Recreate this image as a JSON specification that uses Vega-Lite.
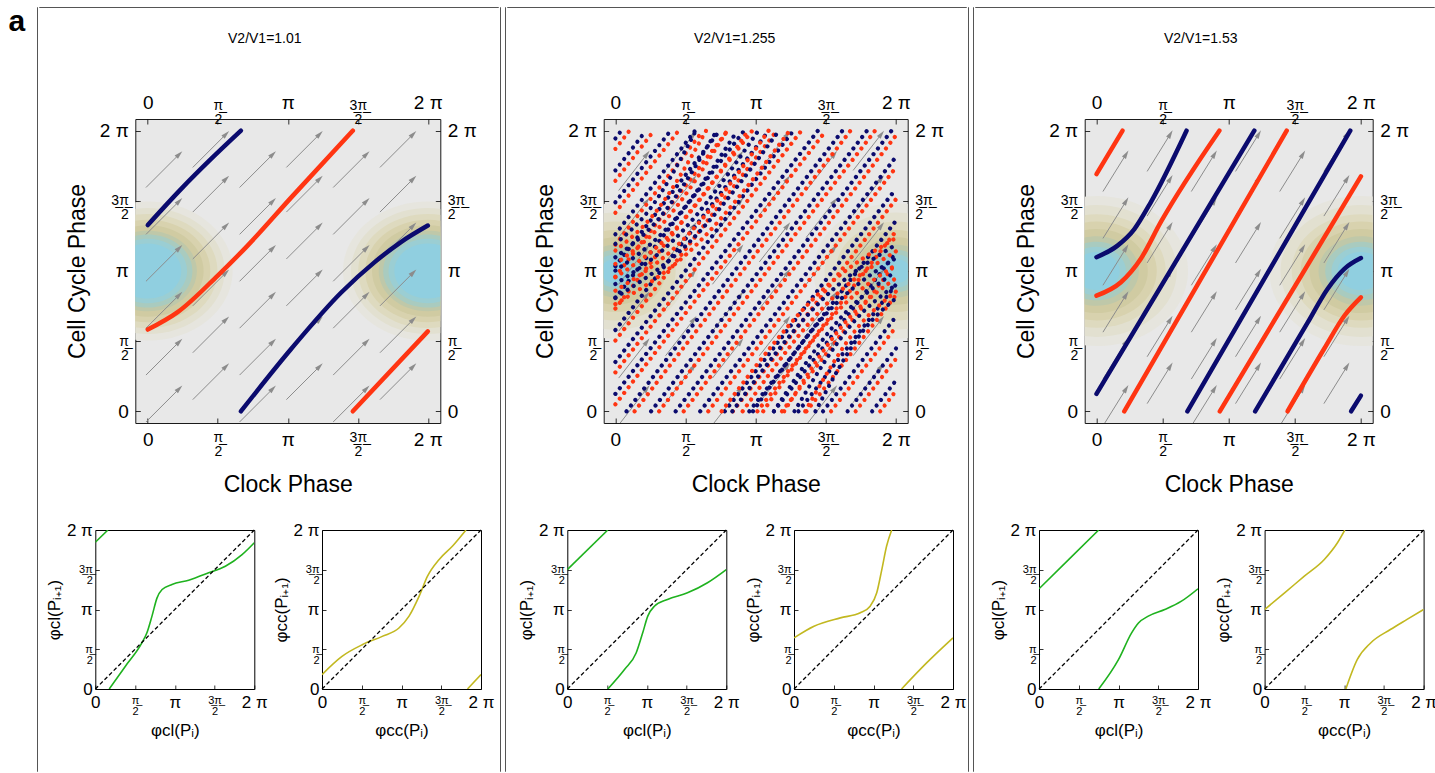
{
"$schema": "https://vega.github.io/schema/vega-lite/v6.json",
"background": "white",
"padding": {"left": 8, "top": 6, "right": 0, "bottom": 0},
"title": {"text": "a", "anchor": "start", "frame": "bounds", "fontSize": 30, "fontWeight": "bold", "font": "Liberation Sans", "color": "#000", "dx": -28, "offset": -30},
"spacing": 3,
"config": {
 "font": "Liberation Sans",
 "axis": {"domain": false, "grid": false, "tickColor": "#000", "tickWidth": 0.8, "labelColor": "#000", "labelFont": "Liberation Sans", "titleFont": "Liberation Sans", "titleFontWeight": "normal", "titleColor": "#000", "labelFlush": false, "labelOverlap": false, "labelBound": false},
 "title": {"font": "Liberation Sans", "fontWeight": "normal", "color": "#000"}
},
"datasets": {
 "bg": [
  {"p":1,"x":0,"y":3.1416,"r":1.9,"lvl":1},{"p":1,"x":0,"y":3.1416,"r":1.72,"lvl":2},{"p":1,"x":0,"y":3.1416,"r":1.56,"lvl":3},{"p":1,"x":0,"y":3.1416,"r":1.4,"lvl":4},{"p":1,"x":0,"y":3.1416,"r":1.25,"lvl":5},{"p":1,"x":0,"y":3.1416,"r":1.1,"lvl":6},{"p":1,"x":0,"y":3.1416,"r":1.0,"lvl":7},{"p":1,"x":0,"y":3.1416,"r":0.88,"lvl":8},{"p":1,"x":0,"y":3.1416,"r":0.75,"lvl":9},
  {"p":1,"x":6.2832,"y":3.1416,"r":1.9,"lvl":1},{"p":1,"x":6.2832,"y":3.1416,"r":1.72,"lvl":2},{"p":1,"x":6.2832,"y":3.1416,"r":1.56,"lvl":3},{"p":1,"x":6.2832,"y":3.1416,"r":1.4,"lvl":4},{"p":1,"x":6.2832,"y":3.1416,"r":1.25,"lvl":5},{"p":1,"x":6.2832,"y":3.1416,"r":1.1,"lvl":6},{"p":1,"x":6.2832,"y":3.1416,"r":1.0,"lvl":7},{"p":1,"x":6.2832,"y":3.1416,"r":0.88,"lvl":8},{"p":1,"x":6.2832,"y":3.1416,"r":0.75,"lvl":9},
  {"p":2,"x":0,"y":3.1416,"r":1.85,"lvl":1},{"p":2,"x":0,"y":3.1416,"r":1.6,"lvl":2},{"p":2,"x":0,"y":3.1416,"r":1.35,"lvl":3},{"p":2,"x":0,"y":3.1416,"r":1.12,"lvl":4},{"p":2,"x":0,"y":3.1416,"r":0.92,"lvl":5},{"p":2,"x":0,"y":3.1416,"r":0.72,"lvl":6},{"p":2,"x":0,"y":3.1416,"r":0.58,"lvl":7},{"p":2,"x":0,"y":3.1416,"r":0.45,"lvl":8},{"p":2,"x":0,"y":3.1416,"r":0.33,"lvl":9},
  {"p":2,"x":6.2832,"y":3.1416,"r":1.85,"lvl":1},{"p":2,"x":6.2832,"y":3.1416,"r":1.6,"lvl":2},{"p":2,"x":6.2832,"y":3.1416,"r":1.35,"lvl":3},{"p":2,"x":6.2832,"y":3.1416,"r":1.12,"lvl":4},{"p":2,"x":6.2832,"y":3.1416,"r":0.92,"lvl":5},{"p":2,"x":6.2832,"y":3.1416,"r":0.72,"lvl":6},{"p":2,"x":6.2832,"y":3.1416,"r":0.58,"lvl":7},{"p":2,"x":6.2832,"y":3.1416,"r":0.45,"lvl":8},{"p":2,"x":6.2832,"y":3.1416,"r":0.33,"lvl":9},
  {"p":3,"x":0,"y":3.1416,"r":2.05,"lvl":1},{"p":3,"x":0,"y":3.1416,"r":1.8,"lvl":2},{"p":3,"x":0,"y":3.1416,"r":1.55,"lvl":3},{"p":3,"x":0,"y":3.1416,"r":1.35,"lvl":4},{"p":3,"x":0,"y":3.1416,"r":1.15,"lvl":5},{"p":3,"x":0,"y":3.1416,"r":0.95,"lvl":6},{"p":3,"x":0,"y":3.1416,"r":0.8,"lvl":7},{"p":3,"x":0,"y":3.1416,"r":0.66,"lvl":8},{"p":3,"x":0,"y":3.1416,"r":0.52,"lvl":9},
  {"p":3,"x":6.2832,"y":3.1416,"r":2.05,"lvl":1},{"p":3,"x":6.2832,"y":3.1416,"r":1.8,"lvl":2},{"p":3,"x":6.2832,"y":3.1416,"r":1.55,"lvl":3},{"p":3,"x":6.2832,"y":3.1416,"r":1.35,"lvl":4},{"p":3,"x":6.2832,"y":3.1416,"r":1.15,"lvl":5},{"p":3,"x":6.2832,"y":3.1416,"r":0.95,"lvl":6},{"p":3,"x":6.2832,"y":3.1416,"r":0.8,"lvl":7},{"p":3,"x":6.2832,"y":3.1416,"r":0.66,"lvl":8},{"p":3,"x":6.2832,"y":3.1416,"r":0.52,"lvl":9}
 ],
 "arr": [
  {"x":0.7,"y":0.5},{"x":0.7,"y":1.55},{"x":0.7,"y":2.6},{"x":0.7,"y":3.65},{"x":0.7,"y":4.7},{"x":0.7,"y":5.75},
  {"x":1.75,"y":1.0},{"x":1.75,"y":2.05},{"x":1.75,"y":3.1},{"x":1.75,"y":4.15},{"x":1.75,"y":5.2},{"x":1.75,"y":6.2},
  {"x":2.8,"y":0.5},{"x":2.8,"y":1.55},{"x":2.8,"y":2.6},{"x":2.8,"y":3.65},{"x":2.8,"y":4.7},{"x":2.8,"y":5.75},
  {"x":3.85,"y":1.0},{"x":3.85,"y":2.05},{"x":3.85,"y":3.1},{"x":3.85,"y":4.15},{"x":3.85,"y":5.2},{"x":3.85,"y":6.2},
  {"x":4.9,"y":0.5},{"x":4.9,"y":1.55},{"x":4.9,"y":2.6},{"x":4.9,"y":3.65},{"x":4.9,"y":4.7},{"x":4.9,"y":5.75},
  {"x":5.95,"y":1.0},{"x":5.95,"y":2.05},{"x":5.95,"y":3.1},{"x":5.95,"y":4.15},{"x":5.95,"y":5.2},{"x":5.95,"y":6.2}
 ],
 "tr": [
  {"p":1,"id":"b1","c":"b","x":0,"y":4.17},{"p":1,"id":"b1","c":"b","x":0.75,"y":4.98},{"p":1,"id":"b1","c":"b","x":1.42,"y":5.65},{"p":1,"id":"b1","c":"b","x":2.09,"y":6.283},
  {"p":1,"id":"b2","c":"b","x":2.09,"y":0},{"p":1,"id":"b2","c":"b","x":3.22,"y":1.4},{"p":1,"id":"b2","c":"b","x":4.34,"y":2.66},{"p":1,"id":"b2","c":"b","x":5.09,"y":3.34},{"p":1,"id":"b2","c":"b","x":5.68,"y":3.79},{"p":1,"id":"b2","c":"b","x":6.283,"y":4.16},
  {"p":1,"id":"r1","c":"r","x":0,"y":1.83},{"p":1,"id":"r1","c":"r","x":0.67,"y":2.22},{"p":1,"id":"r1","c":"r","x":1.57,"y":3.04},{"p":1,"id":"r1","c":"r","x":2.24,"y":3.71},{"p":1,"id":"r1","c":"r","x":3.22,"y":4.79},{"p":1,"id":"r1","c":"r","x":4.6,"y":6.283},
  {"p":1,"id":"r2","c":"r","x":4.6,"y":0},{"p":1,"id":"r2","c":"r","x":6.283,"y":1.79},
  {"p":3,"id":"ra","c":"r","x":0,"y":5.31},{"p":3,"id":"ra","c":"r","x":0.62,"y":6.283},
  {"p":3,"id":"ba","c":"b","x":0,"y":3.45},{"p":3,"id":"ba","c":"b","x":0.5,"y":3.71},{"p":3,"id":"ba","c":"b","x":0.9,"y":4.08},{"p":3,"id":"ba","c":"b","x":1.29,"y":4.68},{"p":3,"id":"ba","c":"b","x":2.14,"y":6.283},
  {"p":3,"id":"rb","c":"r","x":0,"y":2.59},{"p":3,"id":"rb","c":"r","x":0.58,"y":2.89},{"p":3,"id":"rb","c":"r","x":1.05,"y":3.41},{"p":3,"id":"rb","c":"r","x":1.53,"y":4.24},{"p":3,"id":"rb","c":"r","x":2.92,"y":6.283},
  {"p":3,"id":"bb","c":"b","x":0,"y":0.39},{"p":3,"id":"bb","c":"b","x":3.75,"y":6.283},
  {"p":3,"id":"rc","c":"r","x":0.66,"y":0},{"p":3,"id":"rc","c":"r","x":4.52,"y":6.283},
  {"p":3,"id":"bc","c":"b","x":2.16,"y":0},{"p":3,"id":"bc","c":"b","x":6.03,"y":6.283},
  {"p":3,"id":"rd","c":"r","x":2.93,"y":0},{"p":3,"id":"rd","c":"r","x":6.283,"y":5.26},
  {"p":3,"id":"bd","c":"b","x":3.77,"y":0},{"p":3,"id":"bd","c":"b","x":5.02,"y":1.99},{"p":3,"id":"bd","c":"b","x":5.49,"y":2.74},{"p":3,"id":"bd","c":"b","x":5.89,"y":3.19},{"p":3,"id":"bd","c":"b","x":6.283,"y":3.43},
  {"p":3,"id":"re","c":"r","x":4.54,"y":0},{"p":3,"id":"re","c":"r","x":5.41,"y":1.4},{"p":3,"id":"re","c":"r","x":5.89,"y":2.14},{"p":3,"id":"re","c":"r","x":6.283,"y":2.55},
  {"p":3,"id":"be","c":"b","x":6.05,"y":0},{"p":3,"id":"be","c":"b","x":6.283,"y":0.35}
 ],
 "dots": [
  {"id":"s0b","c":"b","x":0,"y":6.11},{"id":"s0b","c":"b","x":0.13,"y":6.283},
  {"id":"s0r","c":"r","x":0,"y":5.876},{"id":"s0r","c":"r","x":0.313,"y":6.283},
  {"id":"s1b","c":"b","x":0,"y":5.395},{"id":"s1b","c":"b","x":0.683,"y":6.283},
  {"id":"s1r","c":"r","x":0,"y":5.161},{"id":"s1r","c":"r","x":0.863,"y":6.283},
  {"id":"s2b","c":"b","x":0,"y":4.68},{"id":"s2b","c":"b","x":1.233,"y":6.283},
  {"id":"s2r","c":"r","x":0,"y":4.446},{"id":"s2r","c":"r","x":1.413,"y":6.283},
  {"id":"s3b","c":"b","x":0,"y":3.965},{"id":"s3b","c":"b","x":1.783,"y":6.283},
  {"id":"s3r","c":"r","x":0,"y":3.731},{"id":"s3r","c":"r","x":1.963,"y":6.283},
  {"id":"s4b","c":"b","x":0,"y":3.25},{"id":"s4b","c":"b","x":2.333,"y":6.283},
  {"id":"s4r","c":"r","x":0,"y":3.016},{"id":"s4r","c":"r","x":2.513,"y":6.283},
  {"id":"s5b","c":"b","x":0,"y":2.535},{"id":"s5b","c":"b","x":2.883,"y":6.283},
  {"id":"s5r","c":"r","x":0,"y":2.301},{"id":"s5r","c":"r","x":3.063,"y":6.283},
  {"id":"s6b","c":"b","x":0,"y":1.82},{"id":"s6b","c":"b","x":3.433,"y":6.283},
  {"id":"s6r","c":"r","x":0,"y":1.586},{"id":"s6r","c":"r","x":3.613,"y":6.283},
  {"id":"s7b","c":"b","x":0,"y":1.105},{"id":"s7b","c":"b","x":3.983,"y":6.283},
  {"id":"s7r","c":"r","x":0,"y":0.871},{"id":"s7r","c":"r","x":4.163,"y":6.283},
  {"id":"s8b","c":"b","x":0,"y":0.39},{"id":"s8b","c":"b","x":4.533,"y":6.283},
  {"id":"s8r","c":"r","x":0,"y":0.156},{"id":"s8r","c":"r","x":4.713,"y":6.283},
  {"id":"s9b","c":"b","x":0.25,"y":0},{"id":"s9b","c":"b","x":5.083,"y":6.283},
  {"id":"s9r","c":"r","x":0.43,"y":0},{"id":"s9r","c":"r","x":5.263,"y":6.283},
  {"id":"s10b","c":"b","x":0.8,"y":0},{"id":"s10b","c":"b","x":5.633,"y":6.283},
  {"id":"s10r","c":"r","x":0.98,"y":0},{"id":"s10r","c":"r","x":5.813,"y":6.283},
  {"id":"s11b","c":"b","x":1.35,"y":0},{"id":"s11b","c":"b","x":6.183,"y":6.283},
  {"id":"s11r","c":"r","x":1.53,"y":0},{"id":"s11r","c":"r","x":6.283,"y":6.179},
  {"id":"s12b","c":"b","x":1.9,"y":0},{"id":"s12b","c":"b","x":6.283,"y":5.698},
  {"id":"s12r","c":"r","x":2.08,"y":0},{"id":"s12r","c":"r","x":6.283,"y":5.464},
  {"id":"s13b","c":"b","x":2.45,"y":0},{"id":"s13b","c":"b","x":6.283,"y":4.983},
  {"id":"s13r","c":"r","x":2.63,"y":0},{"id":"s13r","c":"r","x":6.283,"y":4.749},
  {"id":"s14b","c":"b","x":3.0,"y":0},{"id":"s14b","c":"b","x":6.283,"y":4.268},
  {"id":"s14r","c":"r","x":3.18,"y":0},{"id":"s14r","c":"r","x":6.283,"y":4.034},
  {"id":"s15b","c":"b","x":3.55,"y":0},{"id":"s15b","c":"b","x":6.283,"y":3.553},
  {"id":"s15r","c":"r","x":3.73,"y":0},{"id":"s15r","c":"r","x":6.283,"y":3.319},
  {"id":"s16b","c":"b","x":4.1,"y":0},{"id":"s16b","c":"b","x":6.283,"y":2.838},
  {"id":"s16r","c":"r","x":4.28,"y":0},{"id":"s16r","c":"r","x":6.283,"y":2.604},
  {"id":"s17b","c":"b","x":4.65,"y":0},{"id":"s17b","c":"b","x":6.283,"y":2.123},
  {"id":"s17r","c":"r","x":4.83,"y":0},{"id":"s17r","c":"r","x":6.283,"y":1.889},
  {"id":"s18b","c":"b","x":5.2,"y":0},{"id":"s18b","c":"b","x":6.283,"y":1.408},
  {"id":"s18r","c":"r","x":5.38,"y":0},{"id":"s18r","c":"r","x":6.283,"y":1.174},
  {"id":"s19b","c":"b","x":5.75,"y":0},{"id":"s19b","c":"b","x":6.283,"y":0.693},
  {"id":"s19r","c":"r","x":5.93,"y":0},{"id":"s19r","c":"r","x":6.283,"y":0.459},
  {"id":"a0","c":"b","x":0,"y":3.75},{"id":"a0","c":"b","x":0.72,"y":4.46},{"id":"a0","c":"b","x":1.8,"y":6.283},
  {"id":"a1","c":"r","x":0,"y":3.6},{"id":"a1","c":"r","x":0.81,"y":4.35},{"id":"a1","c":"r","x":2.03,"y":6.283},
  {"id":"a2","c":"b","x":0,"y":3.45},{"id":"a2","c":"b","x":0.91,"y":4.24},{"id":"a2","c":"b","x":2.27,"y":6.283},
  {"id":"a3","c":"r","x":0,"y":3.3},{"id":"a3","c":"r","x":1.0,"y":4.14},{"id":"a3","c":"r","x":2.5,"y":6.283},
  {"id":"a4","c":"b","x":0,"y":3.15},{"id":"a4","c":"b","x":1.09,"y":4.03},{"id":"a4","c":"b","x":2.73,"y":6.283},
  {"id":"a5","c":"r","x":0,"y":3.0},{"id":"a5","c":"r","x":1.19,"y":3.92},{"id":"a5","c":"r","x":2.97,"y":6.283},
  {"id":"a6","c":"b","x":0,"y":2.85},{"id":"a6","c":"b","x":1.28,"y":3.81},{"id":"a6","c":"b","x":3.2,"y":6.283},
  {"id":"a7","c":"r","x":0,"y":2.7},{"id":"a7","c":"r","x":1.37,"y":3.7},{"id":"a7","c":"r","x":3.43,"y":6.283},
  {"id":"a8","c":"b","x":0,"y":2.55},{"id":"a8","c":"b","x":1.46,"y":3.6},{"id":"a8","c":"b","x":3.66,"y":6.283},
  {"id":"a9","c":"r","x":0,"y":2.4},{"id":"a9","c":"r","x":1.56,"y":3.49},{"id":"a9","c":"r","x":3.9,"y":6.283},
  {"id":"c0","c":"b","x":4.48,"y":0},{"id":"c0","c":"b","x":5.56,"y":1.82},{"id":"c0","c":"b","x":6.283,"y":2.533},
  {"id":"c1","c":"r","x":4.25,"y":0},{"id":"c1","c":"r","x":5.47,"y":1.93},{"id":"c1","c":"r","x":6.283,"y":2.683},
  {"id":"c2","c":"b","x":4.01,"y":0},{"id":"c2","c":"b","x":5.37,"y":2.04},{"id":"c2","c":"b","x":6.283,"y":2.833},
  {"id":"c3","c":"r","x":3.78,"y":0},{"id":"c3","c":"r","x":5.28,"y":2.14},{"id":"c3","c":"r","x":6.283,"y":2.983},
  {"id":"c4","c":"b","x":3.55,"y":0},{"id":"c4","c":"b","x":5.19,"y":2.25},{"id":"c4","c":"b","x":6.283,"y":3.133},
  {"id":"c5","c":"r","x":3.31,"y":0},{"id":"c5","c":"r","x":5.09,"y":2.36},{"id":"c5","c":"r","x":6.283,"y":3.283},
  {"id":"c6","c":"b","x":3.08,"y":0},{"id":"c6","c":"b","x":5.0,"y":2.47},{"id":"c6","c":"b","x":6.283,"y":3.433},
  {"id":"c7","c":"r","x":2.85,"y":0},{"id":"c7","c":"r","x":4.91,"y":2.58},{"id":"c7","c":"r","x":6.283,"y":3.583},
  {"id":"c8","c":"b","x":2.62,"y":0},{"id":"c8","c":"b","x":4.82,"y":2.68},{"id":"c8","c":"b","x":6.283,"y":3.733},
  {"id":"c9","c":"r","x":2.38,"y":0},{"id":"c9","c":"r","x":4.72,"y":2.79},{"id":"c9","c":"r","x":6.283,"y":3.883}
 ],
 "mp": [
  {"p":1,"k":"cl","id":"m","x":0.55,"y":0},{"p":1,"k":"cl","id":"m","x":1.19,"y":0.9},{"p":1,"k":"cl","id":"m","x":1.84,"y":1.82},{"p":1,"k":"cl","id":"m","x":2.04,"y":2.22},{"p":1,"k":"cl","id":"m","x":2.24,"y":2.88},{"p":1,"k":"cl","id":"m","x":2.44,"y":3.6},{"p":1,"k":"cl","id":"m","x":2.64,"y":3.93},{"p":1,"k":"cl","id":"m","x":3.03,"y":4.13},{"p":1,"k":"cl","id":"m","x":3.69,"y":4.3},{"p":1,"k":"cl","id":"m","x":4.48,"y":4.59},{"p":1,"k":"cl","id":"m","x":5.14,"y":4.85},{"p":1,"k":"cl","id":"m","x":5.8,"y":5.31},{"p":1,"k":"cl","id":"m","x":6.283,"y":5.78},
  {"p":1,"k":"cl","id":"u","x":0,"y":5.8},{"p":1,"k":"cl","id":"u","x":0.5,"y":6.283},
  {"p":1,"k":"cc","id":"m","x":0,"y":0.57},{"p":1,"k":"cc","id":"m","x":0.79,"y":1.29},{"p":1,"k":"cc","id":"m","x":1.59,"y":1.75},{"p":1,"k":"cc","id":"m","x":2.38,"y":2.08},{"p":1,"k":"cc","id":"m","x":3.04,"y":2.41},{"p":1,"k":"cc","id":"m","x":3.44,"y":2.88},{"p":1,"k":"cc","id":"m","x":3.84,"y":3.67},{"p":1,"k":"cc","id":"m","x":4.17,"y":4.46},{"p":1,"k":"cc","id":"m","x":4.63,"y":5.12},{"p":1,"k":"cc","id":"m","x":5.16,"y":5.65},{"p":1,"k":"cc","id":"m","x":5.69,"y":6.283},
  {"p":1,"k":"cc","id":"l","x":5.75,"y":0},{"p":1,"k":"cc","id":"l","x":6.283,"y":0.57},
  {"p":2,"k":"cl","id":"u","x":0,"y":4.72},{"p":2,"k":"cl","id":"u","x":1.6,"y":6.283},
  {"p":2,"k":"cl","id":"m","x":1.6,"y":0},{"p":2,"k":"cl","id":"m","x":2.26,"y":0.77},{"p":2,"k":"cl","id":"m","x":2.72,"y":1.42},{"p":2,"k":"cl","id":"m","x":2.98,"y":2.22},{"p":2,"k":"cl","id":"m","x":3.18,"y":2.88},{"p":2,"k":"cl","id":"m","x":3.44,"y":3.27},{"p":2,"k":"cl","id":"m","x":3.96,"y":3.54},{"p":2,"k":"cl","id":"m","x":4.75,"y":3.8},{"p":2,"k":"cl","id":"m","x":5.54,"y":4.2},{"p":2,"k":"cl","id":"m","x":6.283,"y":4.72},
  {"p":2,"k":"cc","id":"m","x":0,"y":2.02},{"p":2,"k":"cc","id":"m","x":0.79,"y":2.48},{"p":2,"k":"cc","id":"m","x":1.83,"y":2.81},{"p":2,"k":"cc","id":"m","x":2.62,"y":3.01},{"p":2,"k":"cc","id":"m","x":3.01,"y":3.27},{"p":2,"k":"cc","id":"m","x":3.27,"y":3.8},{"p":2,"k":"cc","id":"m","x":3.47,"y":4.72},{"p":2,"k":"cc","id":"m","x":3.66,"y":5.65},{"p":2,"k":"cc","id":"m","x":3.86,"y":6.283},
  {"p":2,"k":"cc","id":"l","x":4.25,"y":0},{"p":2,"k":"cc","id":"l","x":5.24,"y":1.03},{"p":2,"k":"cc","id":"l","x":6.283,"y":2.02},
  {"p":3,"k":"cl","id":"u","x":0,"y":3.96},{"p":3,"k":"cl","id":"u","x":1.18,"y":5.12},{"p":3,"k":"cl","id":"u","x":2.36,"y":6.283},
  {"p":3,"k":"cl","id":"m","x":2.36,"y":0},{"p":3,"k":"cl","id":"m","x":3.14,"y":1.16},{"p":3,"k":"cl","id":"m","x":3.66,"y":2.22},{"p":3,"k":"cl","id":"m","x":3.93,"y":2.61},{"p":3,"k":"cl","id":"m","x":4.32,"y":2.88},{"p":3,"k":"cl","id":"m","x":4.97,"y":3.14},{"p":3,"k":"cl","id":"m","x":5.63,"y":3.47},{"p":3,"k":"cl","id":"m","x":6.283,"y":3.96},
  {"p":3,"k":"cc","id":"u","x":0,"y":3.14},{"p":3,"k":"cc","id":"u","x":0.79,"y":3.8},{"p":3,"k":"cc","id":"u","x":1.57,"y":4.46},{"p":3,"k":"cc","id":"u","x":2.36,"y":5.12},{"p":3,"k":"cc","id":"u","x":2.88,"y":5.78},{"p":3,"k":"cc","id":"u","x":3.17,"y":6.283},
  {"p":3,"k":"cc","id":"l","x":3.21,"y":0},{"p":3,"k":"cc","id":"l","x":3.66,"y":1.16},{"p":3,"k":"cc","id":"l","x":4.19,"y":1.82},{"p":3,"k":"cc","id":"l","x":4.97,"y":2.35},{"p":3,"k":"cc","id":"l","x":5.63,"y":2.75},{"p":3,"k":"cc","id":"l","x":6.283,"y":3.14}
 ]
},
"hconcat": [
 {"spacing": 0, "hconcat": [
  {"width": 0.001, "height": 764, "data": {"values": []}, "mark": "point", "view": {"stroke": "#555", "fill": null}},
  {"spacing": 23, "vconcat": [
   {"width": 459, "height": 0.001, "data": {"values": []}, "mark": "point", "view": {"stroke": "#555", "fill": null}},
   {"bounds": "flush", "spacing": 95.3, "hconcat": [
    {"width": 0.001, "height": 0.001, "data": {"values": []}, "mark": "point", "view": {"stroke": null, "fill": null}},
    {
    "title": {"text": "V2/V1=1.01", "fontSize": 14, "frame": "group", "anchor": "middle", "dx": -23, "offset": 47},
    "width": 305, "height": 304,
    "view": {"fill": "#e8e8e8", "stroke": "#1a1a1a"},
    "resolve": {"scale": {"color": "independent", "size": "independent"}},
    "layer": [
     {"data": {"name": "bg"}, "transform": [{"filter": "datum.p == 1"}],
      "mark": {"type": "point", "shape": "M-1,0A1,0.82,0,1,0,1,0A1,0.82,0,1,0,-1,0Z", "filled": true, "opacity": 1, "clip": true},
      "encoding": {
       "x": {"field": "x", "type": "quantitative", "scale": {"domain": [-0.28, 6.563], "nice": false, "zero": false},
             "axis": {"orient": "bottom", "values": [0, 1.5708, 3.1416, 4.7124, 6.2832], "labelExpr": "datum.value < 0.5 ? '0' : datum.value < 2 ? ['\u03c0\u0332', '2'] : datum.value < 4 ? '\u03c0' : datum.value < 5 ? ['3\u0332\u03c0\u0332', '2'] : '2 \u03c0'", "labelFontSize": {"condition": {"test": "(datum.value > 1 && datum.value < 2) || (datum.value > 4 && datum.value < 5)", "value": 14}, "value": 19}, "labelBaseline": "top", "labelPadding": 12, "tickSize": -5, "labelLineHeight": 14, "title": "Clock Phase", "titleFontSize": 23, "titlePadding": 15}},
       "y": {"field": "y", "type": "quantitative", "scale": {"domain": [-0.262, 6.545], "nice": false, "zero": false},
             "axis": {"orient": "left", "values": [0, 1.5708, 3.1416, 4.7124, 6.2832], "labelExpr": "datum.value < 0.5 ? '0' : datum.value < 2 ? ['\u03c0\u0332', '2'] : datum.value < 4 ? '\u03c0' : datum.value < 5 ? ['3\u0332\u03c0\u0332', '2'] : '2 \u03c0'", "labelFontSize": {"condition": {"test": "(datum.value > 1 && datum.value < 2) || (datum.value > 4 && datum.value < 5)", "value": 14}, "value": 19}, "labelAlign": "right", "labelBaseline": "middle", "labelPadding": 12, "tickSize": -5, "labelLineHeight": 14, "title": "Cell Cycle Phase", "titleFontSize": 23, "titlePadding": 10}},
       "size": {"field": "r", "type": "quantitative", "scale": {"type": "pow", "exponent": 2, "domain": [0, 2], "range": [0, 31900]}, "legend": null},
       "color": {"field": "lvl", "type": "ordinal", "scale": {"domain": [1,2,3,4,5,6,7,8,9], "range": ["#e6e5de","#e2e0d0","#dedabf","#d8d2ae","#d0cba2","#bfc8a9","#a9cbbf","#9bced3","#90cfe0"]}, "legend": null},
       "order": {"field": "lvl", "type": "quantitative"}
      }},
     {"data": {"name": "arr"},
      "mark": {"type": "rule", "color": "#8c8c8c", "strokeWidth": 1, "x2Offset": -33, "y2Offset": 33, "clip": true},
      "encoding": {
       "x": {"field": "x", "type": "quantitative", "scale": {"domain": [-0.28, 6.563], "nice": false, "zero": false},
             "axis": {"orient": "top", "values": [0, 1.5708, 3.1416, 4.7124, 6.2832], "labelExpr": "datum.value < 0.5 ? '0' : datum.value < 2 ? ['\u03c0\u0332', '2'] : datum.value < 4 ? '\u03c0' : datum.value < 5 ? ['3\u0332\u03c0\u0332', '2'] : '2 \u03c0'", "labelFontSize": {"condition": {"test": "(datum.value > 1 && datum.value < 2) || (datum.value > 4 && datum.value < 5)", "value": 14}, "value": 19}, "labelBaseline": "bottom", "labelPadding": 12, "tickSize": -5, "labelLineHeight": 14, "title": null}},
       "y": {"field": "y", "type": "quantitative", "scale": {"domain": [-0.262, 6.545], "nice": false, "zero": false},
             "axis": {"orient": "right", "values": [0, 1.5708, 3.1416, 4.7124, 6.2832], "labelExpr": "datum.value < 0.5 ? '0' : datum.value < 2 ? ['\u03c0\u0332', '2'] : datum.value < 4 ? '\u03c0' : datum.value < 5 ? ['3\u0332\u03c0\u0332', '2'] : '2 \u03c0'", "labelFontSize": {"condition": {"test": "(datum.value > 1 && datum.value < 2) || (datum.value > 4 && datum.value < 5)", "value": 14}, "value": 19}, "labelAlign": "left", "labelBaseline": "middle", "labelPadding": 12, "tickSize": -5, "labelLineHeight": 14, "title": null}},
       "x2": {"field": "x"}, "y2": {"field": "y"}
      }},
     {"data": {"name": "arr"},
      "mark": {"type": "point", "shape": "M0,-1L0.5,0.8L-0.5,0.8Z", "angle": 45, "size": 90, "filled": true, "color": "#8c8c8c", "opacity": 1, "clip": true},
      "encoding": {
       "x": {"field": "x", "type": "quantitative", "scale": {"domain": [-0.28, 6.563], "nice": false, "zero": false}, "axis": null},
       "y": {"field": "y", "type": "quantitative", "scale": {"domain": [-0.262, 6.545], "nice": false, "zero": false}, "axis": null}
      }},
     {"data": {"name": "tr"}, "transform": [{"filter": "datum.p == 1"}],
      "mark": {"type": "line", "strokeWidth": 4.5, "interpolate": "monotone", "clip": true, "strokeCap": "round"},
      "encoding": {
       "x": {"field": "x", "type": "quantitative", "scale": {"domain": [-0.28, 6.563], "nice": false, "zero": false}, "axis": null},
       "y": {"field": "y", "type": "quantitative", "scale": {"domain": [-0.262, 6.545], "nice": false, "zero": false}, "axis": null},
       "detail": {"field": "id"},
       "color": {"field": "c", "type": "nominal", "scale": {"domain": ["b", "r"], "range": ["#0b0b6e", "#ff3512"]}, "legend": null}
      }}
    ]
    }
   ]},
   {"bounds": "flush", "spacing": 55.3, "hconcat": [
    {"width": 0.001, "height": 0.001, "data": {"values": []}, "mark": "point", "view": {"stroke": null, "fill": null}},
    {
    "hconcat": [
     {"width": 159, "height": 159, "view": {"stroke": "#000", "fill": "#fff"},
      "resolve": {"axis": {"x": "independent", "y": "independent"}},
      "layer": [
       {"data": {"name": "mp"}, "transform": [{"filter": "datum.p == 1 && datum.k == 'cl'"}],
        "mark": {"type": "line", "color": "#1fb21f", "strokeWidth": 1.6, "interpolate": "monotone", "clip": true},
        "encoding": {
         "x": {"field": "x", "type": "quantitative", "scale": {"domain": [0, 6.2832], "nice": false, "zero": false},
               "axis": {"orient": "bottom", "values": [0, 1.5708, 3.1416, 4.7124, 6.2832], "labelExpr": "datum.value < 0.5 ? '0' : datum.value < 2 ? ['\u03c0\u0332', '2'] : datum.value < 4 ? '\u03c0' : datum.value < 5 ? ['3\u0332\u03c0\u0332', '2'] : '2 \u03c0'", "labelFontSize": {"condition": {"test": "(datum.value > 1 && datum.value < 2) || (datum.value > 4 && datum.value < 5)", "value": 11}, "value": 17}, "labelBaseline": "top", "labelPadding": 9, "tickSize": -4, "labelLineHeight": 11, "title": "\u03c6cl(P\u1d62)", "titleFontSize": 17, "titlePadding": 6}},
         "y": {"field": "y", "type": "quantitative", "scale": {"domain": [0, 6.2832], "nice": false, "zero": false},
               "axis": {"orient": "left", "values": [0, 1.5708, 3.1416, 4.7124, 6.2832], "labelExpr": "datum.value < 0.5 ? '0' : datum.value < 2 ? ['\u03c0\u0332', '2'] : datum.value < 4 ? '\u03c0' : datum.value < 5 ? ['3\u0332\u03c0\u0332', '2'] : '2 \u03c0'", "labelFontSize": {"condition": {"test": "(datum.value > 1 && datum.value < 2) || (datum.value > 4 && datum.value < 5)", "value": 11}, "value": 17}, "labelAlign": "right", "labelBaseline": "middle", "labelPadding": 7, "tickSize": -4, "labelLineHeight": 11, "title": "\u03c6cl(P\u1d62\u208a\u2081)", "titleFontSize": 17, "titlePadding": 3}},
         "detail": {"field": "id"}
        }},
       {"data": {"values": [{}]},
        "mark": {"type": "rule", "strokeDash": [4, 2.5], "color": "#000", "strokeWidth": 1.3},
        "encoding": {"x": {"datum": 0, "type": "quantitative", "scale": {"domain": [0, 6.2832], "nice": false, "zero": false}, "axis": null}, "y": {"datum": 0, "type": "quantitative", "scale": {"domain": [0, 6.2832], "nice": false, "zero": false}, "axis": null}, "x2": {"datum": 6.2832}, "y2": {"datum": 6.2832}}}
      ]},
     {"width": 159, "height": 159, "view": {"stroke": "#000", "fill": "#fff"},
      "resolve": {"axis": {"x": "independent", "y": "independent"}},
      "layer": [
       {"data": {"name": "mp"}, "transform": [{"filter": "datum.p == 1 && datum.k == 'cc'"}],
        "mark": {"type": "line", "color": "#c2b820", "strokeWidth": 1.6, "interpolate": "monotone", "clip": true},
        "encoding": {
         "x": {"field": "x", "type": "quantitative", "scale": {"domain": [0, 6.2832], "nice": false, "zero": false},
               "axis": {"orient": "bottom", "values": [0, 1.5708, 3.1416, 4.7124, 6.2832], "labelExpr": "datum.value < 0.5 ? '0' : datum.value < 2 ? ['\u03c0\u0332', '2'] : datum.value < 4 ? '\u03c0' : datum.value < 5 ? ['3\u0332\u03c0\u0332', '2'] : '2 \u03c0'", "labelFontSize": {"condition": {"test": "(datum.value > 1 && datum.value < 2) || (datum.value > 4 && datum.value < 5)", "value": 11}, "value": 17}, "labelBaseline": "top", "labelPadding": 9, "tickSize": -4, "labelLineHeight": 11, "title": "\u03c6cc(P\u1d62)", "titleFontSize": 17, "titlePadding": 6}},
         "y": {"field": "y", "type": "quantitative", "scale": {"domain": [0, 6.2832], "nice": false, "zero": false},
               "axis": {"orient": "left", "values": [0, 1.5708, 3.1416, 4.7124, 6.2832], "labelExpr": "datum.value < 0.5 ? '0' : datum.value < 2 ? ['\u03c0\u0332', '2'] : datum.value < 4 ? '\u03c0' : datum.value < 5 ? ['3\u0332\u03c0\u0332', '2'] : '2 \u03c0'", "labelFontSize": {"condition": {"test": "(datum.value > 1 && datum.value < 2) || (datum.value > 4 && datum.value < 5)", "value": 11}, "value": 17}, "labelAlign": "right", "labelBaseline": "middle", "labelPadding": 7, "tickSize": -4, "labelLineHeight": 11, "title": "\u03c6cc(P\u1d62\u208a\u2081)", "titleFontSize": 17, "titlePadding": 3}},
         "detail": {"field": "id"}
        }},
       {"data": {"values": [{}]},
        "mark": {"type": "rule", "strokeDash": [4, 2.5], "color": "#000", "strokeWidth": 1.3},
        "encoding": {"x": {"datum": 0, "type": "quantitative", "scale": {"domain": [0, 6.2832], "nice": false, "zero": false}, "axis": null}, "y": {"datum": 0, "type": "quantitative", "scale": {"domain": [0, 6.2832], "nice": false, "zero": false}, "axis": null}, "x2": {"datum": 6.2832}, "y2": {"datum": 6.2832}}}
      ]}
    ],
    "spacing": 67.7, "bounds": "flush"
    }
   ]}
  ]},
  {"width": 0.001, "height": 764, "data": {"values": []}, "mark": "point", "view": {"stroke": "#555", "fill": null}}
 ]},
 {"spacing": 0, "hconcat": [
  {"width": 0.001, "height": 764, "data": {"values": []}, "mark": "point", "view": {"stroke": "#555", "fill": null}},
  {"spacing": 23, "vconcat": [
   {"width": 459, "height": 0.001, "data": {"values": []}, "mark": "point", "view": {"stroke": "#555", "fill": null}},
   {"bounds": "flush", "spacing": 95.7, "hconcat": [
    {"width": 0.001, "height": 0.001, "data": {"values": []}, "mark": "point", "view": {"stroke": null, "fill": null}},
    {
    "title": {"text": "V2/V1=1.255", "fontSize": 14, "frame": "group", "anchor": "middle", "dx": -21, "offset": 47},
    "width": 304, "height": 304,
    "view": {"fill": "#e8e8e8", "stroke": "#1a1a1a"},
    "resolve": {"scale": {"color": "independent", "size": "independent"}},
    "layer": [
     {"data": {"name": "bg"}, "transform": [{"filter": "datum.p == 2"}],
      "mark": {"type": "point", "shape": "M-1,0A1,0.82,0,1,0,1,0A1,0.82,0,1,0,-1,0Z", "filled": true, "opacity": 1, "clip": true},
      "encoding": {
       "x": {"field": "x", "type": "quantitative", "scale": {"domain": [-0.262, 6.545], "nice": false, "zero": false},
             "axis": {"orient": "bottom", "values": [0, 1.5708, 3.1416, 4.7124, 6.2832], "labelExpr": "datum.value < 0.5 ? '0' : datum.value < 2 ? ['\u03c0\u0332', '2'] : datum.value < 4 ? '\u03c0' : datum.value < 5 ? ['3\u0332\u03c0\u0332', '2'] : '2 \u03c0'", "labelFontSize": {"condition": {"test": "(datum.value > 1 && datum.value < 2) || (datum.value > 4 && datum.value < 5)", "value": 14}, "value": 19}, "labelBaseline": "top", "labelPadding": 12, "tickSize": -5, "labelLineHeight": 14, "title": "Clock Phase", "titleFontSize": 23, "titlePadding": 15}},
       "y": {"field": "y", "type": "quantitative", "scale": {"domain": [-0.262, 6.545], "nice": false, "zero": false},
             "axis": {"orient": "left", "values": [0, 1.5708, 3.1416, 4.7124, 6.2832], "labelExpr": "datum.value < 0.5 ? '0' : datum.value < 2 ? ['\u03c0\u0332', '2'] : datum.value < 4 ? '\u03c0' : datum.value < 5 ? ['3\u0332\u03c0\u0332', '2'] : '2 \u03c0'", "labelFontSize": {"condition": {"test": "(datum.value > 1 && datum.value < 2) || (datum.value > 4 && datum.value < 5)", "value": 14}, "value": 19}, "labelAlign": "right", "labelBaseline": "middle", "labelPadding": 12, "tickSize": -5, "labelLineHeight": 14, "title": "Cell Cycle Phase", "titleFontSize": 23, "titlePadding": 10}},
       "size": {"field": "r", "type": "quantitative", "scale": {"type": "pow", "exponent": 2, "domain": [0, 2], "range": [0, 31900]}, "legend": null},
       "color": {"field": "lvl", "type": "ordinal", "scale": {"domain": [1,2,3,4,5,6,7,8,9], "range": ["#e6e5de","#e2e0d0","#dedabf","#d8d2ae","#d0cba2","#bfc8a9","#a9cbbf","#9bced3","#90cfe0"]}, "legend": null},
       "order": {"field": "lvl", "type": "quantitative"}
      }},
     {"data": {"name": "arr"},
      "mark": {"type": "rule", "color": "#8c8c8c", "strokeWidth": 1, "x2Offset": -28, "y2Offset": 36, "clip": true},
      "encoding": {
       "x": {"field": "x", "type": "quantitative", "scale": {"domain": [-0.262, 6.545], "nice": false, "zero": false},
             "axis": {"orient": "top", "values": [0, 1.5708, 3.1416, 4.7124, 6.2832], "labelExpr": "datum.value < 0.5 ? '0' : datum.value < 2 ? ['\u03c0\u0332', '2'] : datum.value < 4 ? '\u03c0' : datum.value < 5 ? ['3\u0332\u03c0\u0332', '2'] : '2 \u03c0'", "labelFontSize": {"condition": {"test": "(datum.value > 1 && datum.value < 2) || (datum.value > 4 && datum.value < 5)", "value": 14}, "value": 19}, "labelBaseline": "bottom", "labelPadding": 12, "tickSize": -5, "labelLineHeight": 14, "title": null}},
       "y": {"field": "y", "type": "quantitative", "scale": {"domain": [-0.262, 6.545], "nice": false, "zero": false},
             "axis": {"orient": "right", "values": [0, 1.5708, 3.1416, 4.7124, 6.2832], "labelExpr": "datum.value < 0.5 ? '0' : datum.value < 2 ? ['\u03c0\u0332', '2'] : datum.value < 4 ? '\u03c0' : datum.value < 5 ? ['3\u0332\u03c0\u0332', '2'] : '2 \u03c0'", "labelFontSize": {"condition": {"test": "(datum.value > 1 && datum.value < 2) || (datum.value > 4 && datum.value < 5)", "value": 14}, "value": 19}, "labelAlign": "left", "labelBaseline": "middle", "labelPadding": 12, "tickSize": -5, "labelLineHeight": 14, "title": null}},
       "x2": {"field": "x"}, "y2": {"field": "y"}
      }},
     {"data": {"name": "arr"},
      "mark": {"type": "point", "shape": "M0,-1L0.5,0.8L-0.5,0.8Z", "angle": 37.6, "size": 90, "filled": true, "color": "#8c8c8c", "opacity": 1, "clip": true},
      "encoding": {
       "x": {"field": "x", "type": "quantitative", "scale": {"domain": [-0.262, 6.545], "nice": false, "zero": false}, "axis": null},
       "y": {"field": "y", "type": "quantitative", "scale": {"domain": [-0.262, 6.545], "nice": false, "zero": false}, "axis": null}
      }},
     {"data": {"name": "dots"},
      "mark": {"type": "line", "strokeWidth": 4.2, "interpolate": "monotone", "clip": true, "strokeCap": "round", "strokeDash": [0.01, 7.2]},
      "encoding": {
       "x": {"field": "x", "type": "quantitative", "scale": {"domain": [-0.262, 6.545], "nice": false, "zero": false}, "axis": null},
       "y": {"field": "y", "type": "quantitative", "scale": {"domain": [-0.262, 6.545], "nice": false, "zero": false}, "axis": null},
       "detail": {"field": "id"},
       "color": {"field": "c", "type": "nominal", "scale": {"domain": ["b", "r"], "range": ["#0b0b6e", "#ff3512"]}, "legend": null}
      }}
    ]
    }
   ]},
   {"bounds": "flush", "spacing": 59.3, "hconcat": [
    {"width": 0.001, "height": 0.001, "data": {"values": []}, "mark": "point", "view": {"stroke": null, "fill": null}},
    {
    "hconcat": [
     {"width": 159, "height": 159, "view": {"stroke": "#000", "fill": "#fff"},
      "resolve": {"axis": {"x": "independent", "y": "independent"}},
      "layer": [
       {"data": {"name": "mp"}, "transform": [{"filter": "datum.p == 2 && datum.k == 'cl'"}],
        "mark": {"type": "line", "color": "#1fb21f", "strokeWidth": 1.6, "interpolate": "monotone", "clip": true},
        "encoding": {
         "x": {"field": "x", "type": "quantitative", "scale": {"domain": [0, 6.2832], "nice": false, "zero": false},
               "axis": {"orient": "bottom", "values": [0, 1.5708, 3.1416, 4.7124, 6.2832], "labelExpr": "datum.value < 0.5 ? '0' : datum.value < 2 ? ['\u03c0\u0332', '2'] : datum.value < 4 ? '\u03c0' : datum.value < 5 ? ['3\u0332\u03c0\u0332', '2'] : '2 \u03c0'", "labelFontSize": {"condition": {"test": "(datum.value > 1 && datum.value < 2) || (datum.value > 4 && datum.value < 5)", "value": 11}, "value": 17}, "labelBaseline": "top", "labelPadding": 9, "tickSize": -4, "labelLineHeight": 11, "title": "\u03c6cl(P\u1d62)", "titleFontSize": 17, "titlePadding": 6}},
         "y": {"field": "y", "type": "quantitative", "scale": {"domain": [0, 6.2832], "nice": false, "zero": false},
               "axis": {"orient": "left", "values": [0, 1.5708, 3.1416, 4.7124, 6.2832], "labelExpr": "datum.value < 0.5 ? '0' : datum.value < 2 ? ['\u03c0\u0332', '2'] : datum.value < 4 ? '\u03c0' : datum.value < 5 ? ['3\u0332\u03c0\u0332', '2'] : '2 \u03c0'", "labelFontSize": {"condition": {"test": "(datum.value > 1 && datum.value < 2) || (datum.value > 4 && datum.value < 5)", "value": 11}, "value": 17}, "labelAlign": "right", "labelBaseline": "middle", "labelPadding": 7, "tickSize": -4, "labelLineHeight": 11, "title": "\u03c6cl(P\u1d62\u208a\u2081)", "titleFontSize": 17, "titlePadding": 3}},
         "detail": {"field": "id"}
        }},
       {"data": {"values": [{}]},
        "mark": {"type": "rule", "strokeDash": [4, 2.5], "color": "#000", "strokeWidth": 1.3},
        "encoding": {"x": {"datum": 0, "type": "quantitative", "scale": {"domain": [0, 6.2832], "nice": false, "zero": false}, "axis": null}, "y": {"datum": 0, "type": "quantitative", "scale": {"domain": [0, 6.2832], "nice": false, "zero": false}, "axis": null}, "x2": {"datum": 6.2832}, "y2": {"datum": 6.2832}}}
      ]},
     {"width": 159, "height": 159, "view": {"stroke": "#000", "fill": "#fff"},
      "resolve": {"axis": {"x": "independent", "y": "independent"}},
      "layer": [
       {"data": {"name": "mp"}, "transform": [{"filter": "datum.p == 2 && datum.k == 'cc'"}],
        "mark": {"type": "line", "color": "#c2b820", "strokeWidth": 1.6, "interpolate": "monotone", "clip": true},
        "encoding": {
         "x": {"field": "x", "type": "quantitative", "scale": {"domain": [0, 6.2832], "nice": false, "zero": false},
               "axis": {"orient": "bottom", "values": [0, 1.5708, 3.1416, 4.7124, 6.2832], "labelExpr": "datum.value < 0.5 ? '0' : datum.value < 2 ? ['\u03c0\u0332', '2'] : datum.value < 4 ? '\u03c0' : datum.value < 5 ? ['3\u0332\u03c0\u0332', '2'] : '2 \u03c0'", "labelFontSize": {"condition": {"test": "(datum.value > 1 && datum.value < 2) || (datum.value > 4 && datum.value < 5)", "value": 11}, "value": 17}, "labelBaseline": "top", "labelPadding": 9, "tickSize": -4, "labelLineHeight": 11, "title": "\u03c6cc(P\u1d62)", "titleFontSize": 17, "titlePadding": 6}},
         "y": {"field": "y", "type": "quantitative", "scale": {"domain": [0, 6.2832], "nice": false, "zero": false},
               "axis": {"orient": "left", "values": [0, 1.5708, 3.1416, 4.7124, 6.2832], "labelExpr": "datum.value < 0.5 ? '0' : datum.value < 2 ? ['\u03c0\u0332', '2'] : datum.value < 4 ? '\u03c0' : datum.value < 5 ? ['3\u0332\u03c0\u0332', '2'] : '2 \u03c0'", "labelFontSize": {"condition": {"test": "(datum.value > 1 && datum.value < 2) || (datum.value > 4 && datum.value < 5)", "value": 11}, "value": 17}, "labelAlign": "right", "labelBaseline": "middle", "labelPadding": 7, "tickSize": -4, "labelLineHeight": 11, "title": "\u03c6cc(P\u1d62\u208a\u2081)", "titleFontSize": 17, "titlePadding": 3}},
         "detail": {"field": "id"}
        }},
       {"data": {"values": [{}]},
        "mark": {"type": "rule", "strokeDash": [4, 2.5], "color": "#000", "strokeWidth": 1.3},
        "encoding": {"x": {"datum": 0, "type": "quantitative", "scale": {"domain": [0, 6.2832], "nice": false, "zero": false}, "axis": null}, "y": {"datum": 0, "type": "quantitative", "scale": {"domain": [0, 6.2832], "nice": false, "zero": false}, "axis": null}, "x2": {"datum": 6.2832}, "y2": {"datum": 6.2832}}}
      ]}
    ],
    "spacing": 67.7, "bounds": "flush"
    }
   ]}
  ]},
  {"width": 0.001, "height": 764, "data": {"values": []}, "mark": "point", "view": {"stroke": "#555", "fill": null}}
 ]},
 {"spacing": 0, "hconcat": [
  {"width": 0.001, "height": 764, "data": {"values": []}, "mark": "point", "view": {"stroke": "#555", "fill": null}},
  {"spacing": 23, "vconcat": [
   {"width": 459, "height": 0.001, "data": {"values": []}, "mark": "point", "view": {"stroke": "#555", "fill": null}},
   {"bounds": "flush", "spacing": 108.7, "hconcat": [
    {"width": 0.001, "height": 0.001, "data": {"values": []}, "mark": "point", "view": {"stroke": null, "fill": null}},
    {
    "title": {"text": "V2/V1=1.53", "fontSize": 14, "frame": "group", "anchor": "middle", "dx": -28, "offset": 47},
    "width": 288, "height": 304,
    "view": {"fill": "#e8e8e8", "stroke": "#1a1a1a"},
    "resolve": {"scale": {"color": "independent", "size": "independent"}},
    "layer": [
     {"data": {"name": "bg"}, "transform": [{"filter": "datum.p == 3"}],
      "mark": {"type": "point", "shape": "M-1,0A1,0.82,0,1,0,1,0A1,0.82,0,1,0,-1,0Z", "filled": true, "opacity": 1, "clip": true},
      "encoding": {
       "x": {"field": "x", "type": "quantitative", "scale": {"domain": [-0.28, 6.563], "nice": false, "zero": false},
             "axis": {"orient": "bottom", "values": [0, 1.5708, 3.1416, 4.7124, 6.2832], "labelExpr": "datum.value < 0.5 ? '0' : datum.value < 2 ? ['\u03c0\u0332', '2'] : datum.value < 4 ? '\u03c0' : datum.value < 5 ? ['3\u0332\u03c0\u0332', '2'] : '2 \u03c0'", "labelFontSize": {"condition": {"test": "(datum.value > 1 && datum.value < 2) || (datum.value > 4 && datum.value < 5)", "value": 14}, "value": 19}, "labelBaseline": "top", "labelPadding": 12, "tickSize": -5, "labelLineHeight": 14, "title": "Clock Phase", "titleFontSize": 23, "titlePadding": 15}},
       "y": {"field": "y", "type": "quantitative", "scale": {"domain": [-0.262, 6.545], "nice": false, "zero": false},
             "axis": {"orient": "left", "values": [0, 1.5708, 3.1416, 4.7124, 6.2832], "labelExpr": "datum.value < 0.5 ? '0' : datum.value < 2 ? ['\u03c0\u0332', '2'] : datum.value < 4 ? '\u03c0' : datum.value < 5 ? ['3\u0332\u03c0\u0332', '2'] : '2 \u03c0'", "labelFontSize": {"condition": {"test": "(datum.value > 1 && datum.value < 2) || (datum.value > 4 && datum.value < 5)", "value": 14}, "value": 19}, "labelAlign": "right", "labelBaseline": "middle", "labelPadding": 12, "tickSize": -5, "labelLineHeight": 14, "title": "Cell Cycle Phase", "titleFontSize": 23, "titlePadding": 10}},
       "size": {"field": "r", "type": "quantitative", "scale": {"type": "pow", "exponent": 2, "domain": [0, 2], "range": [0, 31900]}, "legend": null},
       "color": {"field": "lvl", "type": "ordinal", "scale": {"domain": [1,2,3,4,5,6,7,8,9], "range": ["#e6e5de","#e2e0d0","#dedabf","#d8d2ae","#d0cba2","#bfc8a9","#a9cbbf","#9bced3","#90cfe0"]}, "legend": null},
       "order": {"field": "lvl", "type": "quantitative"}
      }},
     {"data": {"name": "arr"},
      "mark": {"type": "rule", "color": "#8c8c8c", "strokeWidth": 1, "x2Offset": -23, "y2Offset": 37, "clip": true},
      "encoding": {
       "x": {"field": "x", "type": "quantitative", "scale": {"domain": [-0.28, 6.563], "nice": false, "zero": false},
             "axis": {"orient": "top", "values": [0, 1.5708, 3.1416, 4.7124, 6.2832], "labelExpr": "datum.value < 0.5 ? '0' : datum.value < 2 ? ['\u03c0\u0332', '2'] : datum.value < 4 ? '\u03c0' : datum.value < 5 ? ['3\u0332\u03c0\u0332', '2'] : '2 \u03c0'", "labelFontSize": {"condition": {"test": "(datum.value > 1 && datum.value < 2) || (datum.value > 4 && datum.value < 5)", "value": 14}, "value": 19}, "labelBaseline": "bottom", "labelPadding": 12, "tickSize": -5, "labelLineHeight": 14, "title": null}},
       "y": {"field": "y", "type": "quantitative", "scale": {"domain": [-0.262, 6.545], "nice": false, "zero": false},
             "axis": {"orient": "right", "values": [0, 1.5708, 3.1416, 4.7124, 6.2832], "labelExpr": "datum.value < 0.5 ? '0' : datum.value < 2 ? ['\u03c0\u0332', '2'] : datum.value < 4 ? '\u03c0' : datum.value < 5 ? ['3\u0332\u03c0\u0332', '2'] : '2 \u03c0'", "labelFontSize": {"condition": {"test": "(datum.value > 1 && datum.value < 2) || (datum.value > 4 && datum.value < 5)", "value": 14}, "value": 19}, "labelAlign": "left", "labelBaseline": "middle", "labelPadding": 12, "tickSize": -5, "labelLineHeight": 14, "title": null}},
       "x2": {"field": "x"}, "y2": {"field": "y"}
      }},
     {"data": {"name": "arr"},
      "mark": {"type": "point", "shape": "M0,-1L0.5,0.8L-0.5,0.8Z", "angle": 31.7, "size": 90, "filled": true, "color": "#8c8c8c", "opacity": 1, "clip": true},
      "encoding": {
       "x": {"field": "x", "type": "quantitative", "scale": {"domain": [-0.28, 6.563], "nice": false, "zero": false}, "axis": null},
       "y": {"field": "y", "type": "quantitative", "scale": {"domain": [-0.262, 6.545], "nice": false, "zero": false}, "axis": null}
      }},
     {"data": {"name": "tr"}, "transform": [{"filter": "datum.p == 3"}],
      "mark": {"type": "line", "strokeWidth": 4.5, "interpolate": "monotone", "clip": true, "strokeCap": "round"},
      "encoding": {
       "x": {"field": "x", "type": "quantitative", "scale": {"domain": [-0.28, 6.563], "nice": false, "zero": false}, "axis": null},
       "y": {"field": "y", "type": "quantitative", "scale": {"domain": [-0.262, 6.545], "nice": false, "zero": false}, "axis": null},
       "detail": {"field": "id"},
       "color": {"field": "c", "type": "nominal", "scale": {"domain": ["b", "r"], "range": ["#0b0b6e", "#ff3512"]}, "legend": null}
      }}
    ]
    }
   ]},
   {"bounds": "flush", "spacing": 63, "hconcat": [
    {"width": 0.001, "height": 0.001, "data": {"values": []}, "mark": "point", "view": {"stroke": null, "fill": null}},
    {
    "hconcat": [
     {"width": 159, "height": 159, "view": {"stroke": "#000", "fill": "#fff"},
      "resolve": {"axis": {"x": "independent", "y": "independent"}},
      "layer": [
       {"data": {"name": "mp"}, "transform": [{"filter": "datum.p == 3 && datum.k == 'cl'"}],
        "mark": {"type": "line", "color": "#1fb21f", "strokeWidth": 1.6, "interpolate": "monotone", "clip": true},
        "encoding": {
         "x": {"field": "x", "type": "quantitative", "scale": {"domain": [0, 6.2832], "nice": false, "zero": false},
               "axis": {"orient": "bottom", "values": [0, 1.5708, 3.1416, 4.7124, 6.2832], "labelExpr": "datum.value < 0.5 ? '0' : datum.value < 2 ? ['\u03c0\u0332', '2'] : datum.value < 4 ? '\u03c0' : datum.value < 5 ? ['3\u0332\u03c0\u0332', '2'] : '2 \u03c0'", "labelFontSize": {"condition": {"test": "(datum.value > 1 && datum.value < 2) || (datum.value > 4 && datum.value < 5)", "value": 11}, "value": 17}, "labelBaseline": "top", "labelPadding": 9, "tickSize": -4, "labelLineHeight": 11, "title": "\u03c6cl(P\u1d62)", "titleFontSize": 17, "titlePadding": 6}},
         "y": {"field": "y", "type": "quantitative", "scale": {"domain": [0, 6.2832], "nice": false, "zero": false},
               "axis": {"orient": "left", "values": [0, 1.5708, 3.1416, 4.7124, 6.2832], "labelExpr": "datum.value < 0.5 ? '0' : datum.value < 2 ? ['\u03c0\u0332', '2'] : datum.value < 4 ? '\u03c0' : datum.value < 5 ? ['3\u0332\u03c0\u0332', '2'] : '2 \u03c0'", "labelFontSize": {"condition": {"test": "(datum.value > 1 && datum.value < 2) || (datum.value > 4 && datum.value < 5)", "value": 11}, "value": 17}, "labelAlign": "right", "labelBaseline": "middle", "labelPadding": 7, "tickSize": -4, "labelLineHeight": 11, "title": "\u03c6cl(P\u1d62\u208a\u2081)", "titleFontSize": 17, "titlePadding": 3}},
         "detail": {"field": "id"}
        }},
       {"data": {"values": [{}]},
        "mark": {"type": "rule", "strokeDash": [4, 2.5], "color": "#000", "strokeWidth": 1.3},
        "encoding": {"x": {"datum": 0, "type": "quantitative", "scale": {"domain": [0, 6.2832], "nice": false, "zero": false}, "axis": null}, "y": {"datum": 0, "type": "quantitative", "scale": {"domain": [0, 6.2832], "nice": false, "zero": false}, "axis": null}, "x2": {"datum": 6.2832}, "y2": {"datum": 6.2832}}}
      ]},
     {"width": 159, "height": 159, "view": {"stroke": "#000", "fill": "#fff"},
      "resolve": {"axis": {"x": "independent", "y": "independent"}},
      "layer": [
       {"data": {"name": "mp"}, "transform": [{"filter": "datum.p == 3 && datum.k == 'cc'"}],
        "mark": {"type": "line", "color": "#c2b820", "strokeWidth": 1.6, "interpolate": "monotone", "clip": true},
        "encoding": {
         "x": {"field": "x", "type": "quantitative", "scale": {"domain": [0, 6.2832], "nice": false, "zero": false},
               "axis": {"orient": "bottom", "values": [0, 1.5708, 3.1416, 4.7124, 6.2832], "labelExpr": "datum.value < 0.5 ? '0' : datum.value < 2 ? ['\u03c0\u0332', '2'] : datum.value < 4 ? '\u03c0' : datum.value < 5 ? ['3\u0332\u03c0\u0332', '2'] : '2 \u03c0'", "labelFontSize": {"condition": {"test": "(datum.value > 1 && datum.value < 2) || (datum.value > 4 && datum.value < 5)", "value": 11}, "value": 17}, "labelBaseline": "top", "labelPadding": 9, "tickSize": -4, "labelLineHeight": 11, "title": "\u03c6cc(P\u1d62)", "titleFontSize": 17, "titlePadding": 6}},
         "y": {"field": "y", "type": "quantitative", "scale": {"domain": [0, 6.2832], "nice": false, "zero": false},
               "axis": {"orient": "left", "values": [0, 1.5708, 3.1416, 4.7124, 6.2832], "labelExpr": "datum.value < 0.5 ? '0' : datum.value < 2 ? ['\u03c0\u0332', '2'] : datum.value < 4 ? '\u03c0' : datum.value < 5 ? ['3\u0332\u03c0\u0332', '2'] : '2 \u03c0'", "labelFontSize": {"condition": {"test": "(datum.value > 1 && datum.value < 2) || (datum.value > 4 && datum.value < 5)", "value": 11}, "value": 17}, "labelAlign": "right", "labelBaseline": "middle", "labelPadding": 7, "tickSize": -4, "labelLineHeight": 11, "title": "\u03c6cc(P\u1d62\u208a\u2081)", "titleFontSize": 17, "titlePadding": 3}},
         "detail": {"field": "id"}
        }},
       {"data": {"values": [{}]},
        "mark": {"type": "rule", "strokeDash": [4, 2.5], "color": "#000", "strokeWidth": 1.3},
        "encoding": {"x": {"datum": 0, "type": "quantitative", "scale": {"domain": [0, 6.2832], "nice": false, "zero": false}, "axis": null}, "y": {"datum": 0, "type": "quantitative", "scale": {"domain": [0, 6.2832], "nice": false, "zero": false}, "axis": null}, "x2": {"datum": 6.2832}, "y2": {"datum": 6.2832}}}
      ]}
    ],
    "spacing": 66.6, "bounds": "flush"
    }
   ]}
  ]}
 ]}
]
}
